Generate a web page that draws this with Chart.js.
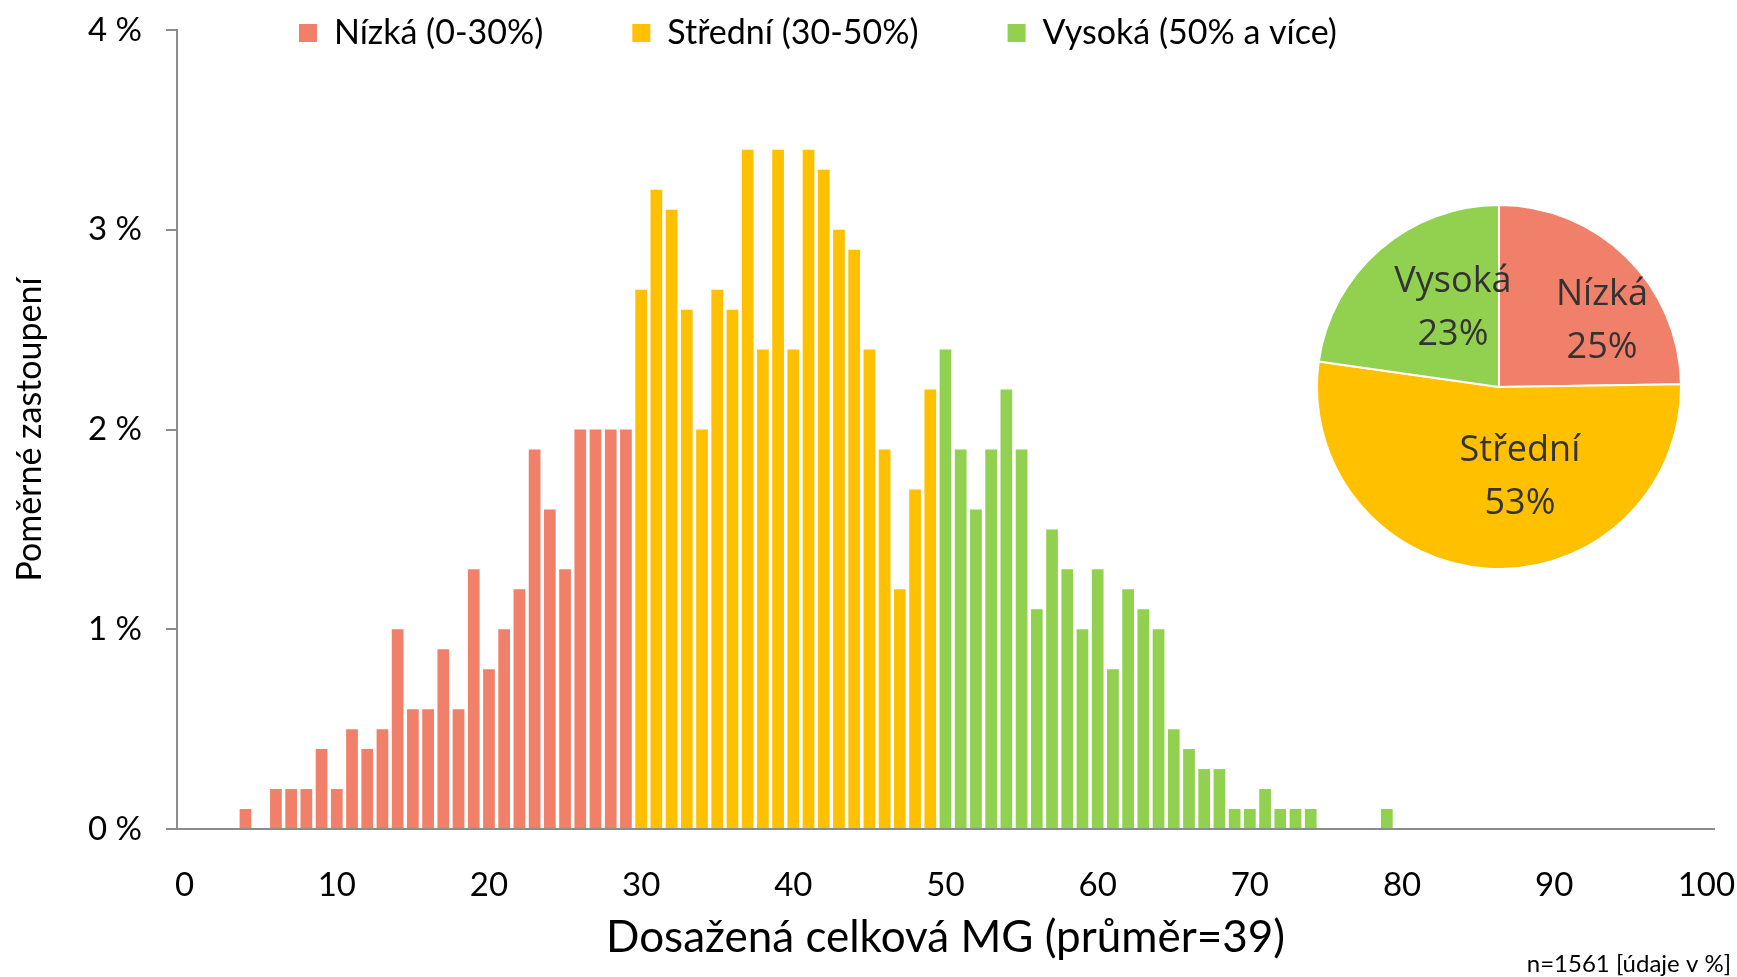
<!DOCTYPE html>
<html lang="cs">
<head>
<meta charset="utf-8">
<title>Dosažená celková MG</title>
<script src="https://cdn.jsdelivr.net/npm/chart.js@4.4.1/dist/chart.umd.min.js"></script>
<style>
  html, body { margin: 0; padding: 0; background: #fff; }
  #wrap { position: relative; width: 1737px; height: 977px; }
  #histogram { position: absolute; left: 0; top: 0; }
  #shareChart { position: absolute; left: 1316px; top: 204px; }
</style>
</head>
<body>
<div id="wrap">
  <canvas id="histogram" width="1737" height="977"></canvas>
  <canvas id="shareChart" width="366" height="366"></canvas>
</div>
<script>
// Scores on the x axis, 0 - 100
const scores = [];
for (let i = 0; i <= 100; i++) scores.push(String(i));

// Share of pupils per score (%), one array per group
const lowShares = [0, 0, 0, 0, 0.1, 0, 0.2, 0.2, 0.2, 0.4, 0.2, 0.5, 0.4, 0.5, 1.0, 0.6, 0.6, 0.9, 0.6, 1.3,
  0.8, 1.0, 1.2, 1.9, 1.6, 1.3, 2.0, 2.0, 2.0, 2.0]; // 0-29
const midShares = [2.7, 3.2, 3.1, 2.6, 2.0, 2.7, 2.6, 3.4, 2.4, 3.4, 2.4, 3.4, 3.3, 3.0, 2.9, 2.4, 1.9, 1.2, 1.7, 2.2]; // 30-49
const highShares = [2.4, 1.9, 1.6, 1.9, 2.2, 1.9, 1.1, 1.5, 1.3, 1.0, 1.3, 0.8, 1.2, 1.1, 1.0, 0.5, 0.4, 0.3, 0.3, 0.1,
  0.1, 0.2, 0.1, 0.1, 0.1, 0, 0, 0, 0, 0.1,
  0, 0, 0, 0, 0, 0, 0, 0, 0, 0, 0, 0, 0, 0, 0, 0, 0, 0, 0, 0, 0]; // 50-100
const groupStarts = [0, 30, 50];

const groupLabels = ["Nízká (0-30%)", "Střední (30-50%)", "Vysoká (50% a více)"];
const groupNames = ["Nízká", "Střední", "Vysoká"];
const groupTotals = [25, 53, 23];
const groupColors = ["rgba(240, 128, 106, 1)", "rgba(255, 192, 0, 1)", "rgba(146, 208, 80, 1)"];

const yTicks = [0, 1, 2, 3, 4];
const sampleNote = "n=1561 [údaje v %]";

Chart.defaults.font.family = "Lato";
Chart.defaults.color = "#000";

// put a group's values at its place on the full 0-100 axis
function spread(values, start) {
  return scores.map((s, i) => (i >= start && i < start + values.length) ? values[i - start] : null);
}

// move the legend into the top of the plot like in the original
const legendPlacer = {
  id: "legendPlacer",
  afterLayout(chart) {
    const legend = chart.legend;
    const pad = legend.options.labels.padding;
    legend.left = 299 - pad;
    legend.right = legend.left + 1737;
    legend.top = 33 - pad - 17;
    legend.bottom = 80; // legend is clipped to its box, keep the row inside
  }
};

const footnote = {
  id: "footnote",
  afterDraw(chart) {
    const ctx = chart.ctx;
    ctx.save();
    ctx.font = "24px Lato";
    ctx.fillStyle = "#000";
    ctx.textAlign = "right";
    ctx.textBaseline = "middle";
    ctx.fillText(sampleNote, 1731, 964);
    ctx.restore();
  }
};

const groupData = [lowShares, midShares, highShares];

new Chart(document.getElementById("histogram"), {
  type: "bar",
  data: {
    labels: scores,
    datasets: groupData.map((values, g) => ({
      label: groupLabels[g],
      data: spread(values, groupStarts[g]),
      backgroundColor: groupColors[g],
      borderWidth: 0,
      grouped: false,
      barPercentage: 0.77,
      categoryPercentage: 1
    }))
  },
  options: {
    responsive: false,
    animation: false,
    events: [],
    layout: { padding: { left: 0, right: 23, top: 0, bottom: 0 } },
    plugins: {
      legend: {
        position: "top",
        align: "start",
        maxHeight: 30,
        labels: { boxWidth: 18, boxHeight: 18, padding: 89, color: "#000", font: { size: 34 } }
      },
      tooltip: { enabled: false }
    },
    scales: {
      x: {
        grid: { display: false },
        border: { color: "#8c8c8c", width: 2 },
        ticks: {
          autoSkip: false,
          maxRotation: 0,
          padding: 29,
          color: "#000",
          font: { size: 33 },
          callback: function (value, index) {
            return index % 10 === 0 ? this.getLabelForValue(value) : null;
          }
        },
        title: {
          display: true,
          text: "Dosažená celková MG (průměr=39)",
          color: "#000",
          font: { size: 44 },
          padding: { top: 0, bottom: 13 }
        },
        afterFit: function (scale) {
          scale.height = 148;
          scale.paddingLeft = 0;
          scale.paddingRight = 0;
        }
      },
      y: {
        min: yTicks[0],
        max: yTicks[yTicks.length - 1],
        ticks: {
          stepSize: 1,
          padding: 24,
          color: "#000",
          font: { size: 33 },
          callback: v => v + " %"
        },
        grid: { drawOnChartArea: false, drawTicks: true, tickLength: 11, color: "#8c8c8c", lineWidth: 2 },
        border: { color: "#8c8c8c", width: 2 },
        title: {
          display: true,
          text: "Poměrné zastoupení",
          color: "#000",
          font: { size: 34 },
          padding: { top: 10, bottom: 0 }
        },
        afterFit: function (scale) {
          scale.width = 177;
          scale.paddingTop = 0;
          scale.paddingBottom = 0;
        }
      }
    }
  },
  plugins: [legendPlacer, footnote]
});

// label spots inside the pie, as parts of the radius (x, y from the centre)
const labelSpots = [[0.566, -0.365], [0.115, 0.495], [-0.253, -0.434]];

const pieLabels = {
  id: "pieLabels",
  afterDatasetsDraw(chart) {
    const ctx = chart.ctx;
    const arcs = chart.getDatasetMeta(0).data;
    ctx.save();
    ctx.font = "36px 'Open Sans'";
    ctx.fillStyle = "#333333";
    ctx.textAlign = "center";
    ctx.textBaseline = "middle";
    arcs.forEach((arc, i) => {
      const r = arc.outerRadius;
      const x = arc.x + labelSpots[i][0] * r;
      const y = arc.y + labelSpots[i][1] * r;
      ctx.fillText(groupNames[i], x, y - 26);
      ctx.fillText(groupTotals[i] + "%", x, y + 27);
    });
    ctx.restore();
  }
};

new Chart(document.getElementById("shareChart"), {
  type: "pie",
  data: {
    labels: groupNames,
    datasets: [{
      data: groupTotals,
      backgroundColor: groupColors,
      borderColor: "#fff",
      borderWidth: 2
    }]
  },
  options: {
    responsive: false,
    animation: false,
    events: [],
    layout: { padding: 0 },
    plugins: { legend: { display: false }, tooltip: { enabled: false } }
  },
  plugins: [pieLabels]
});
</script>
</body>
</html>
